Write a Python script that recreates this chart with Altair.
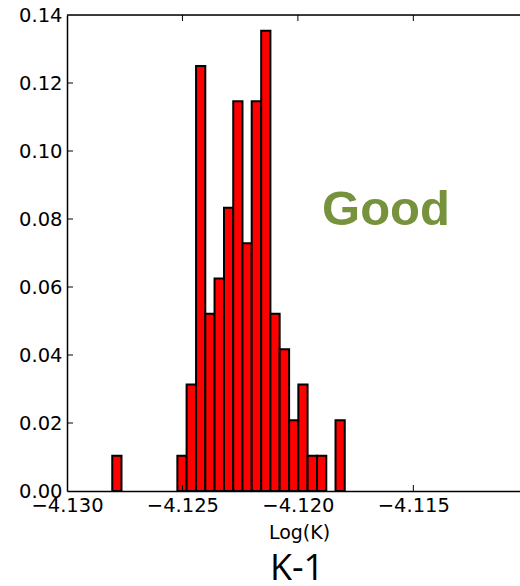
import altair as alt
import pandas as pd

# Histogram of Log(K): bin edges and the fraction of samples in each bin
bin_edges = [-4.12804, -4.12764, -4.12723, -4.12683, -4.12643, -4.12602,
             -4.12562, -4.12522, -4.12482, -4.12441, -4.12401, -4.12361,
             -4.12320, -4.12280, -4.12240, -4.12200, -4.12159, -4.12119,
             -4.12079, -4.12038, -4.11998, -4.11958, -4.11917, -4.11877,
             -4.11837, -4.11797]
fractions = [0.0104, 0.0, 0.0, 0.0, 0.0, 0.0, 0.0, 0.0104, 0.0313, 0.1250,
             0.0521, 0.0625, 0.0833, 0.1146, 0.0729, 0.1146, 0.1354, 0.0521,
             0.0417, 0.0208, 0.0313, 0.0104, 0.0104, 0.0, 0.0208]

x_ticks = [-4.130, -4.125, -4.120, -4.115]
y_ticks = [0.00, 0.02, 0.04, 0.06, 0.08, 0.10, 0.12, 0.14]

W, H = 453, 476
FONT = "DejaVu Sans"

bars = pd.DataFrame({
    "left": bin_edges[:-1],
    "right": bin_edges[1:],
    "frac": fractions,
})

x_scale = alt.Scale(domain=[-4.130, -4.11038], nice=False, zero=False)
y_scale = alt.Scale(domain=[0, 0.14], nice=False)

x_axis = alt.Axis(
    values=x_ticks, format=".3f", ticks=False, grid=False,
    labelFlush=False, labelOverlap=False, labelBound=False,
    labelFont=FONT, labelFontSize=19.5, labelColor="black", labelPadding=5,
    domainColor="black", domainWidth=1.5,
    title="Log(K)", titleFont=FONT, titleFontSize=19,
    titleFontWeight="normal", titleColor="black",
    titleX=232, titleY=47, titleBaseline="alphabetic", titleAlign="center",
)
y_axis = alt.Axis(
    values=y_ticks, format=".2f", ticks=False, grid=False,
    labelFlush=False, labelOverlap=False, labelBound=False,
    labelFont=FONT, labelFontSize=19.5, labelColor="black", labelPadding=5,
    domainColor="black", domainWidth=1.5, title=None,
)

hist = alt.Chart(bars).transform_filter(alt.datum.frac > 0).mark_bar(
    color="#ff0000", stroke="black", strokeWidth=2
).encode(
    x=alt.X("left:Q", scale=x_scale, axis=x_axis),
    x2="right:Q",
    y=alt.Y("frac:Q", scale=y_scale, axis=y_axis),
    y2=alt.datum(0),
)

# top frame line
top_line = alt.Chart(pd.DataFrame({"v": [0]})).mark_rule(
    color="black", strokeWidth=1.5
).encode(x=alt.value(0), x2=alt.value(W), y=alt.value(0))

# inward-pointing tick marks
yt = pd.DataFrame({"v": y_ticks[1:-1]})
y_tick_marks = alt.Chart(yt).mark_rule(color="black", strokeWidth=1).encode(
    y=alt.Y("v:Q", scale=y_scale, axis=y_axis), x=alt.value(0), x2=alt.value(6)
)
xt = pd.DataFrame({"v": x_ticks[1:]})
x_tick_bottom = alt.Chart(xt).mark_rule(color="black", strokeWidth=1).encode(
    x=alt.X("v:Q", scale=x_scale, axis=x_axis), y=alt.value(H), y2=alt.value(H - 6)
)
x_tick_top = alt.Chart(xt).mark_rule(color="black", strokeWidth=1).encode(
    x=alt.X("v:Q", scale=x_scale, axis=x_axis), y=alt.value(0), y2=alt.value(6)
)

good = alt.Chart(pd.DataFrame({"t": ["Good"]})).mark_text(
    font="Liberation Sans", fontWeight="bold", fontSize=49, color="#76923C",
    align="center", baseline="alphabetic"
).encode(text="t:N", x=alt.value(319), y=alt.value(210))

label = alt.Chart(pd.DataFrame({"t": ["K-1"]})).mark_text(
    font="Open Sans", fontSize=36, color="black",
    align="center", baseline="alphabetic"
).encode(text="t:N", x=alt.value(230), y=alt.value(565))

chart = alt.layer(
    hist, top_line, y_tick_marks, x_tick_bottom, x_tick_top, good, label
).properties(
    width=W, height=H,
    autosize=alt.AutoSizeParams(type="none"),
    padding={"left": 67, "top": 15, "right": 0, "bottom": 95},
).configure_view(stroke=None).configure(background="white")

chart.save("out.html", embed_options={"renderer": "svg", "actions": False})
